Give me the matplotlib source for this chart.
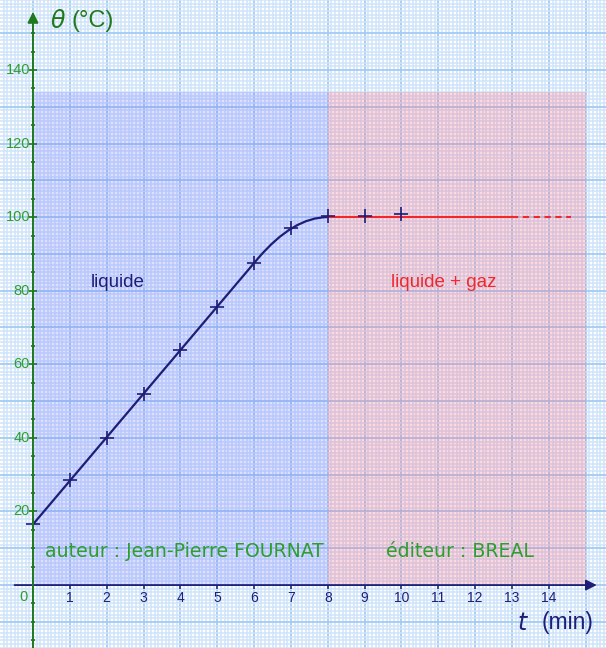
import matplotlib
matplotlib.use("Agg")
import matplotlib.pyplot as plt
from matplotlib.ticker import MultipleLocator
from matplotlib.path import Path
from matplotlib.patches import PathPatch, Rectangle

# ---------------- data ----------------
t_points = [0, 1, 2, 3, 4, 5, 6, 7, 8, 9, 10]
theta_points = [16.5, 28.5, 40, 52, 64, 75.5, 87.5, 97, 100.3, 100.3, 100.8]

# smoothed fit : straight segment then a bend into the plateau
fit_t = [0, 6.1, 7.06, 8]
fit_theta = [16.5, 88.7, 100, 100]

plateau_t = [8, 13]
plateau_dashed_t = [13, 14.6]
plateau_theta = 100

liquid_zone = [0, 8]
boil_zone = [8, 15]
zone_top = 134

x_tick_values = list(range(1, 15))
y_tick_values = [20, 40, 60, 80, 100, 120, 140]

# ---------------- figure ----------------
W, H = 606, 648
fig = plt.figure(figsize=(W / 100, H / 100), dpi=100)
ax = fig.add_axes([0, 0, 1, 1])
x0, x1 = -0.895, 15.55
y0, y1 = -17.1, 159.0
ax.set_xlim(x0, x1)
ax.set_ylim(y0, y1)
for s in ax.spines.values():
    s.set_visible(False)

# graph-paper grid
ax.xaxis.set_major_locator(MultipleLocator(1))
ax.xaxis.set_minor_locator(MultipleLocator(0.1))
ax.yaxis.set_major_locator(MultipleLocator(10))
ax.yaxis.set_minor_locator(MultipleLocator(1))
ax.tick_params(which="both", length=0, labelbottom=False, labelleft=False)
ax.grid(which="minor", color="#cfe4fa", lw=1.1, zorder=0)
ax.grid(which="major", color="#a3cbf3", lw=1.3, zorder=0)
ax.set_axisbelow(True)

# zones
ax.add_patch(Rectangle((liquid_zone[0], 0), liquid_zone[1] - liquid_zone[0], zone_top,
                       facecolor="#6464ff", alpha=0.21, edgecolor="none", zorder=1))
ax.add_patch(Rectangle((boil_zone[0], 0), boil_zone[1] - boil_zone[0], zone_top,
                       facecolor="#ff5a6e", alpha=0.23, edgecolor="none", zorder=1))

navy = "#1e1e78"
green_axis = "#1f7a1f"
green_txt = "#2e9e2e"
red = "#f0282d"

# axes with arrows
ax.annotate("", xy=(15.3, 0), xytext=(-0.5, 0),
            arrowprops=dict(arrowstyle="-|>", color=navy, lw=1.3,
                            mutation_scale=16, shrinkA=0, shrinkB=0), zorder=5)
ax.annotate("", xy=(0, 155.8), xytext=(0, y0 - 1),
            arrowprops=dict(arrowstyle="-|>", color=green_axis, lw=1.4,
                            mutation_scale=16, shrinkA=0, shrinkB=0), zorder=5)

# y ticks
minor_y = [v for v in range(-15, 151, 5) if v not in y_tick_values and v != 0]
ax.plot([0] * len(minor_y), minor_y, ls="none", marker="_", ms=3.5, mew=1.2,
        color=green_axis, zorder=5)
ax.plot([0] * len(y_tick_values), y_tick_values, ls="none", marker="_", ms=5.5, mew=1.2,
        color=green_axis, zorder=5)
for v in y_tick_values:
    ax.text(-0.08, v, f"{v}", ha="right", va="center", color=green_txt,
            fontsize=10.5, family="Liberation Sans", zorder=6)
ax.text(-0.27, -3.3, "0", ha="center", va="center", color=green_txt,
        fontsize=10.5, family="Liberation Sans", zorder=6)

# x ticks
ax.vlines(x_tick_values, -1.0, 0, color=navy, lw=1.1, zorder=5)
for v in x_tick_values:
    ax.text(v, -3.4, f"{v}", ha="center", va="center", color=navy,
            fontsize=10, family="Liberation Sans", zorder=6)

# axis titles
ax.text(0.46, 153.3, r"$\theta$", ha="left", va="center", color=green_axis,
        fontsize=17, zorder=6)
ax.text(1.05, 153.3, "(°C)", ha="left", va="center", color=green_axis,
        fontsize=17, family="Liberation Sans", zorder=6)
ax.text(13.3, -10.2, r"$t$", ha="center", va="center", color=navy,
        fontsize=17, zorder=6)
ax.text(13.8, -10.2, "(min)", ha="left", va="center", color=navy,
        fontsize=16.5, family="Liberation Sans", zorder=6)

# fitted curve (straight line + quadratic bend)
verts = list(zip(fit_t, fit_theta))
codes = [Path.MOVETO, Path.LINETO, Path.CURVE3, Path.CURVE3]
ax.add_patch(PathPatch(Path(verts, codes), facecolor="none", edgecolor=navy,
                       lw=1.6, zorder=3))

# plateau
ax.plot(plateau_t, [plateau_theta] * 2, color=red, lw=1.5, zorder=3)
ax.plot(plateau_dashed_t, [plateau_theta] * 2, color=red, lw=1.5,
        ls=(0, (3, 2.2)), zorder=3)

# measured points
ax.plot(t_points, theta_points, ls="none", marker="+", ms=10, mew=1.2,
        color=navy, zorder=4)

# zone labels
ax.text(2.3, 82.3, "liquide", ha="center", va="center", color=navy,
        fontsize=13.5, family="Liberation Sans", zorder=6)
ax.text(11.14, 82.3, "liquide + gaz", ha="center", va="center", color=red,
        fontsize=13.5, family="Liberation Sans", zorder=6)
ax.text(4.1, 9.0, "auteur : Jean-Pierre FOURNAT", ha="center", va="center",
        color=green_txt, fontsize=13.6, family="DejaVu Sans", zorder=6)
ax.text(11.59, 9.0, "éditeur : BREAL", ha="center", va="center",
        color=green_txt, fontsize=13.6, family="DejaVu Sans", zorder=6)

fig.savefig("out.png", dpi=100)
